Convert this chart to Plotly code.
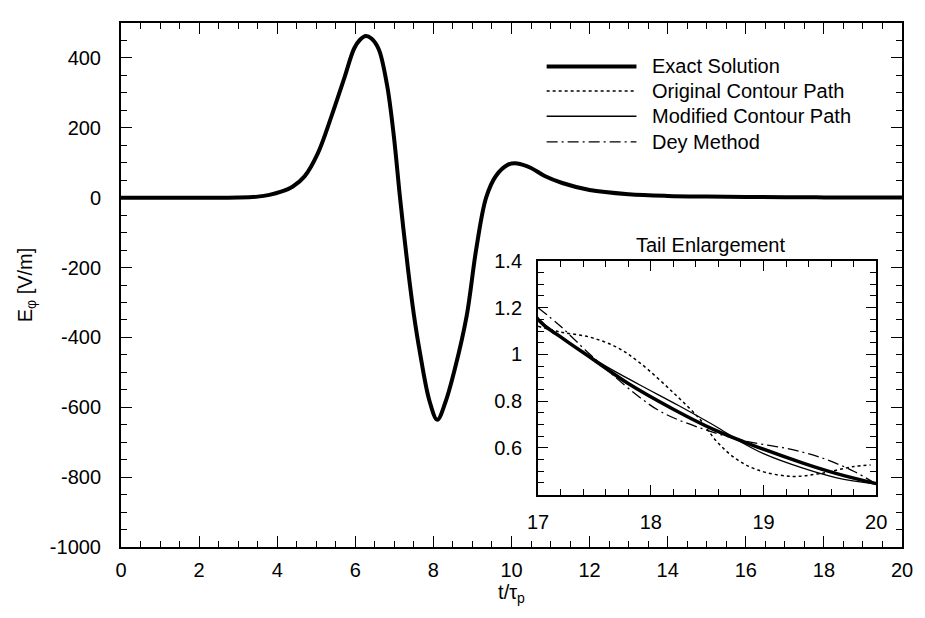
import plotly.graph_objects as go

# ---- data ----
t_exact = [0, 1, 2, 3, 3.5, 3.8, 4.1, 4.4, 4.7, 5.04, 5.38, 5.72, 5.97, 6.12, 6.27, 6.42, 6.6, 6.81, 6.98,
           7.15, 7.35, 7.5, 7.65, 7.9, 8.1, 8.3, 8.55, 8.85, 9.1, 9.35, 9.6, 9.9, 10.15,
           10.5, 10.85, 11.3, 12, 13, 14, 15, 16, 17, 17.2, 17.5, 17.8, 18.2, 18.55, 18.9,
           19.35, 19.65, 20]
e_exact = [0, 0, 0, 0.5, 3, 8, 17, 32, 61, 127, 230, 343, 427, 452, 463, 455, 425, 324, 183,
           -5, -205, -335, -440, -582, -636, -588, -490, -340, -145, 0, 62, 94, 98,
           85, 62, 42, 22, 10, 5, 3, 2, 1.15, 1.075, 0.975, 0.875, 0.765, 0.68, 0.612,
           0.535, 0.49, 0.447]

t_orig = [17, 17.2, 17.45, 17.7, 17.9, 18.2, 18.44, 18.58, 18.75, 18.95, 19.25, 19.5, 19.8, 19.95]
e_orig = [1.12, 1.095, 1.075, 1.03, 0.965, 0.836, 0.72, 0.63, 0.555, 0.505, 0.478, 0.49, 0.52, 0.527]

t_mod = [17, 17.3, 17.6, 17.9, 18.25, 18.6, 18.8, 19.0, 19.35, 19.65, 20]
e_mod = [1.15, 1.04, 0.95, 0.87, 0.78, 0.685, 0.625, 0.575, 0.513, 0.472, 0.445]

t_dey = [17, 17.2, 17.45, 17.85, 18.1, 18.5, 18.85, 19.2, 19.5, 19.8, 20]
e_dey = [1.2, 1.12, 1.005, 0.836, 0.752, 0.675, 0.628, 0.598, 0.56, 0.5, 0.445]

legend_names = ["Exact Solution", "Original Contour Path", "Modified Contour Path", "Dey Method"]
main_xticks = list(range(0, 21, 2))
main_yticks = [-1000, -800, -600, -400, -200, 0, 200, 400]
main_yticktext = ["-1000", "-800", "-600", "-400", "-200", "0", "200", "400"]
inset_yticks = [0.6, 0.8, 1, 1.2, 1.4]
inset_yticktext = ["0.6", "0.8", "1", "1.2", "1.4"]

FONT = "Liberation Sans, Arial, sans-serif"
FS = 20

fig = go.Figure()
# main plot
fig.add_trace(go.Scatter(x=t_exact, y=e_exact, mode="lines", line=dict(color="black", width=4, shape="spline", smoothing=1.0),
                         xaxis="x", yaxis="y", showlegend=False))
# inset
fig.add_trace(go.Scatter(x=t_orig, y=e_orig, mode="lines", line=dict(color="black", width=1.5, dash="dot", shape="spline", smoothing=1.0),
                         xaxis="x2", yaxis="y2", showlegend=False))
fig.add_trace(go.Scatter(x=t_mod, y=e_mod, mode="lines", line=dict(color="black", width=1.3, shape="spline", smoothing=1.0),
                         xaxis="x2", yaxis="y2", showlegend=False))
fig.add_trace(go.Scatter(x=t_dey, y=e_dey, mode="lines", line=dict(color="black", width=1.3, dash="11px,4px,2px,4px", shape="spline", smoothing=1.0),
                         xaxis="x2", yaxis="y2", showlegend=False))
fig.add_trace(go.Scatter(x=t_exact, y=e_exact, mode="lines", line=dict(color="black", width=3.5, shape="spline", smoothing=1.0),
                         xaxis="x2", yaxis="y2", showlegend=False))

axis_common = dict(showline=True, linecolor="black", linewidth=2, mirror="allticks", ticks="inside",
                   tickcolor="black", showgrid=False, zeroline=False,
                   tickfont=dict(family=FONT, size=FS, color="black"))

fig.update_layout(
    width=925, height=618,
    margin=dict(l=121, r=14, t=14, b=71),
    plot_bgcolor="white", paper_bgcolor="white",
    font=dict(family=FONT, color="black"),
    xaxis=dict(**axis_common, range=[0, 20], tickvals=main_xticks, ticklen=11, tickwidth=1,
               minor=dict(ticks="inside", dtick=0.5, ticklen=6, tickcolor="black"),
               ticklabelstandoff=4,
               title=dict(text="t/τ<sub>p</sub>", font=dict(family=FONT, size=FS), standoff=4),
               domain=[0, 1]),
    yaxis=dict(**axis_common, range=[-1000, 500], tickvals=main_yticks, ticktext=main_yticktext,
               ticklen=11, tickwidth=1,
               minor=dict(ticks="inside", dtick=50, ticklen=6, tickcolor="black"),
               ticklabelstandoff=14,
               title=dict(text="E<sub>φ</sub> [V/m]", font=dict(family=FONT, size=FS), standoff=12),
               domain=[0, 1]),
    xaxis2=dict(**axis_common, range=[17, 20], dtick=1, tick0=17, ticklen=10, tickwidth=1,
                minor=dict(ticks="inside", dtick=0.2, ticklen=6, tickcolor="black"),
                ticklabelstandoff=8,
                anchor="y2", domain=[0.534, 0.967]),
    yaxis2=dict(**axis_common, range=[0.4, 1.4], tickvals=inset_yticks, ticktext=inset_yticktext,
                ticklen=10, tickwidth=1,
                minor=dict(ticks="inside", tickvals=[0.4 + 0.05 * i for i in range(21)], ticklen=6, tickcolor="black"),
                ticklabelstandoff=10,
                anchor="x2", domain=[0.1, 0.546]),
)

# inset background
fig.add_shape(type="rect", xref="x2 domain", yref="y2 domain", x0=0, x1=1, y0=0, y1=1,
              fillcolor="white", line=dict(width=0), layer="below")

fig.add_annotation(text="Tail Enlargement", xref="x2 domain", yref="y2 domain", x=0.51, y=1.0,
                   yanchor="bottom", yshift=3, showarrow=False, font=dict(family=FONT, size=FS, color="black"))

# custom legend
leg_rows = [0.917, 0.870, 0.822, 0.773]
leg_styles = [dict(width=4, dash="solid"), dict(width=1.5, dash="dot"), dict(width=1.3, dash="solid"),
              dict(width=1.3, dash="11px,4px,2px,4px")]
for name, yy, st in zip(legend_names, leg_rows, leg_styles):
    fig.add_shape(type="line", xref="paper", yref="paper", x0=0.545, x1=0.66, y0=yy, y1=yy,
                  line=dict(color="black", **st))
    fig.add_annotation(text=name, xref="paper", yref="paper", x=0.677, y=yy, xanchor="left", yanchor="middle",
                       showarrow=False, font=dict(family=FONT, size=FS, color="black"))

fig.write_html("out.html")
